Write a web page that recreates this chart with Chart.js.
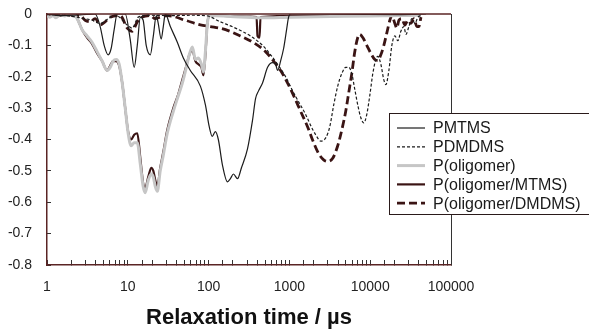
<!DOCTYPE html>
<html>
<head>
<meta charset="utf-8">
<script src="https://cdn.jsdelivr.net/npm/chart.js@4.4.0/dist/chart.umd.min.js"></script>
<style>
  body { margin: 0; background: #fff; }
  #relax { display: block; }
</style>
</head>
<body>
<canvas id="relax" width="589" height="330"></canvas>
<script>
// relaxation time (µs) and signal for each curve
const pmtmsTime = [1, 1.45, 2.57, 3.94, 4.55, 5.1, 5.71, 6.22, 6.78, 7.39, 9.29, 10.7, 12.0, 13.1, 14.3, 15.5, 16.9, 19.0, 20.7, 22.5, 23.8, 25.9, 27.5, 29.1, 33.6, 41.0, 48.7, 59.4, 79.1, 91.3, 102, 111, 121, 132, 148, 171, 186, 203, 228, 255, 303, 349, 381, 415, 465, 537, 619, 675, 714, 778, 848, 923, 977, 1035, 3245, 24000, 48960];
const pmtmsValue = [0, -0.005, -0.003, 0, -0.04, -0.1, -0.13, -0.11, -0.05, 0, 0, -0.08, -0.17, -0.1, -0.01, -0.02, -0.1, -0.13, -0.07, -0.005, -0.03, -0.08, -0.04, 0, -0.04, -0.09, -0.14, -0.18, -0.23, -0.29, -0.36, -0.39, -0.375, -0.4, -0.48, -0.535, -0.525, -0.51, -0.525, -0.49, -0.43, -0.34, -0.27, -0.245, -0.22, -0.17, -0.155, -0.16, -0.18, -0.15, -0.11, -0.05, -0.01, 0, 0, -0.002, 0];

const pdmdmsTime = [1, 1.45, 2.96, 3.61, 4.55, 5.71, 6.98, 9.84, 11.3, 13.5, 19.0, 33.6, 59.4, 91.3, 140, 215, 330, 465, 585, 735, 897, 1096, 1300, 1588, 1832, 2115, 2439, 2813, 3155, 3535, 3963, 4447, 4980, 5430, 5916, 6444, 7015, 7642, 8337, 9078, 9880, 10770, 11730, 12420, 13540, 14750, 15630, 17030, 18540, 20190, 21980, 23970, 26120, 27660, 30130, 32810, 35730, 39000, 42460];
const pdmdmsValue = [-0.002, -0.003, -0.015, -0.02, -0.03, -0.015, -0.003, -0.035, -0.045, -0.01, -0.004, -0.005, -0.004, -0.005, -0.025, -0.045, -0.07, -0.1, -0.13, -0.165, -0.2, -0.245, -0.28, -0.32, -0.355, -0.385, -0.405, -0.395, -0.36, -0.29, -0.23, -0.19, -0.17, -0.17, -0.19, -0.24, -0.29, -0.33, -0.347, -0.32, -0.26, -0.19, -0.145, -0.135, -0.16, -0.21, -0.225, -0.18, -0.1, -0.07, -0.085, -0.055, -0.04, -0.065, -0.04, -0.015, -0.03, -0.01, -0.005];

const oligoTime = [1, 1.09, 1.19, 1.29, 1.45, 1.67, 1.93, 2.23, 2.42, 2.72, 3.13, 3.61, 4.17, 4.81, 5.55, 6.05, 6.59, 7.18, 7.82, 8.53, 9.29, 10.1, 11.0, 12.0, 13.1, 14.3, 15.5, 16.4, 17.9, 19.5, 20.7, 21.9, 23.2, 25.2, 27.5, 30.8, 36.6, 42.2, 47.3, 53.0, 57.7, 63.0, 68.6, 74.8, 81.5, 86.2, 91.3, 96.6, 102, 186, 439, 1035, 3245, 10170, 23970, 42460];
const oligoValue = [-0.005, -0.01, -0.005, -0.012, -0.002, -0.006, 0, -0.005, -0.02, -0.05, -0.07, -0.09, -0.12, -0.15, -0.18, -0.17, -0.15, -0.145, -0.16, -0.22, -0.3, -0.38, -0.42, -0.41, -0.41, -0.48, -0.55, -0.57, -0.53, -0.51, -0.52, -0.55, -0.565, -0.5, -0.45, -0.38, -0.31, -0.26, -0.22, -0.17, -0.13, -0.105, -0.145, -0.14, -0.16, -0.185, -0.12, -0.03, -0.005, -0.008, -0.012, -0.01, -0.008, -0.006, -0.005, -0.003];

const oligoMtmsTime = [1, 1.45, 2.23, 2.42, 2.72, 3.13, 3.61, 4.17, 4.81, 5.55, 6.05, 6.59, 7.18, 7.82, 8.53, 9.29, 10.1, 11.0, 12.0, 13.1, 14.3, 15.5, 16.4, 17.9, 19.5, 20.7, 21.9, 23.2, 25.2, 27.5, 30.8, 36.6, 42.2, 47.3, 53.0, 57.7, 63.0, 68.6, 74.8, 81.5, 86.2, 91.3, 96.6, 102, 330, 392, 403, 427, 439, 1377, 5744, 42460];
const oligoMtmsValue = [-0.003, -0.004, -0.004, -0.02, -0.05, -0.075, -0.095, -0.125, -0.15, -0.18, -0.165, -0.15, -0.15, -0.165, -0.22, -0.3, -0.375, -0.4, -0.385, -0.38, -0.46, -0.54, -0.555, -0.52, -0.49, -0.5, -0.53, -0.55, -0.49, -0.44, -0.37, -0.3, -0.255, -0.21, -0.165, -0.13, -0.115, -0.15, -0.16, -0.17, -0.195, -0.13, -0.03, -0.005, -0.008, -0.01, -0.07, -0.075, -0.01, -0.006, -0.005, -0.003];

const oligoDmdmsTime = [1, 1.45, 2.57, 2.96, 3.42, 3.94, 4.55, 5.24, 6.05, 8.05, 9.84, 11.3, 13.1, 15.1, 19.0, 21.9, 25.2, 30.8, 51.5, 79.1, 105, 162, 248, 381, 507, 637, 778, 950, 1128, 1377, 1683, 1995, 2302, 2655, 2979, 3435, 3963, 4447, 4980, 5430, 5916, 6444, 7015, 7430, 8094, 9078, 10170, 11400, 12420, 13540, 14750, 16070, 17510, 18540, 20190, 21380, 22640, 24660, 26850, 29270, 31890, 34740, 37850, 40100, 42460];
const oligoDmdmsValue = [-0.002, -0.004, -0.005, -0.02, -0.025, -0.015, -0.035, -0.025, -0.01, -0.005, -0.045, -0.055, -0.025, -0.01, -0.005, -0.015, -0.01, -0.005, -0.02, -0.035, -0.04, -0.05, -0.07, -0.095, -0.12, -0.15, -0.18, -0.22, -0.26, -0.31, -0.36, -0.41, -0.445, -0.465, -0.47, -0.46, -0.42, -0.37, -0.31, -0.25, -0.19, -0.12, -0.075, -0.065, -0.075, -0.1, -0.125, -0.145, -0.148, -0.13, -0.1, -0.06, -0.02, -0.005, -0.03, -0.045, -0.02, -0.015, -0.035, -0.02, -0.03, -0.015, -0.04, -0.04, -0.01];

const yTicks = [0, -0.1, -0.2, -0.3, -0.4, -0.5, -0.6, -0.7, -0.8];

function toPoints(times, values) {
  return times.map((t, i) => ({ x: t, y: values[i] }));
}

const FONT = "'Liberation Sans', Arial, sans-serif";
const AXIS = "#5a2424";

// top and right edges of the plot box
const frame = {
  id: "frame",
  afterDatasetsDraw(chart) {
    const { ctx, chartArea: a } = chart;
    ctx.save();
    ctx.lineWidth = 1.5;
    ctx.strokeStyle = AXIS;
    ctx.beginPath();
    ctx.moveTo(a.left, a.top);
    ctx.lineTo(a.right, a.top);
    ctx.stroke();
    ctx.strokeStyle = "#333";
    ctx.lineWidth = 1;
    ctx.beginPath();
    ctx.moveTo(a.right + 0.5, a.top);
    ctx.lineTo(a.right + 0.5, a.bottom);
    ctx.stroke();
    ctx.restore();
  }
};

// boxed legend with line samples, partly cut off by the right edge
const boxLegend = {
  id: "boxLegend",
  afterDraw(chart) {
    const ctx = chart.ctx;
    const left = 389.5, top = 113.5, bottom = 214.5;
    ctx.save();
    ctx.fillStyle = "#fff";
    ctx.fillRect(left, top, 220, bottom - top);
    ctx.strokeStyle = "#2a1a1a";
    ctx.lineWidth = 1;
    ctx.strokeRect(left, top, 220, bottom - top);
    ctx.font = "16px " + FONT;
    ctx.textBaseline = "middle";
    ctx.fillStyle = "#1a1a1a";
    chart.data.datasets.forEach((ds, i) => {
      const y = 128 + i * 18.8;
      ctx.strokeStyle = ds.borderColor;
      ctx.lineWidth = ds.borderWidth;
      ctx.setLineDash(ds.borderDash || []);
      ctx.beginPath();
      ctx.moveTo(397, y);
      ctx.lineTo(425, y);
      ctx.stroke();
      ctx.setLineDash([]);
      ctx.fillText(ds.label, 433, y + 1);
    });
    ctx.restore();
  }
};

new Chart(document.getElementById("relax"), {
  type: "line",
  data: {
    datasets: [
      {
        label: "PMTMS",
        data: toPoints(pmtmsTime, pmtmsValue),
        borderColor: "#1c1c1c",
        borderWidth: 1.2,
      },
      {
        label: "PDMDMS",
        data: toPoints(pdmdmsTime, pdmdmsValue),
        borderColor: "#1c1c1c",
        borderWidth: 1.2,
        borderDash: [3, 2],
      },
      {
        label: "P(oligomer)",
        data: toPoints(oligoTime, oligoValue),
        borderColor: "#c6c6c6",
        borderWidth: 3,
      },
      {
        label: "P(oligomer/MTMS)",
        data: toPoints(oligoMtmsTime, oligoMtmsValue),
        borderColor: "#3a1414",
        borderWidth: 2.2,
      },
      {
        label: "P(oligomer/DMDMS)",
        data: toPoints(oligoDmdmsTime, oligoDmdmsValue),
        borderColor: "#3a1414",
        borderWidth: 2.8,
        borderDash: [8, 4],
      },
    ],
  },
  options: {
    responsive: false,
    animation: false,
    layout: { padding: { left: 8, right: 138, top: 14, bottom: 0 } },
    elements: {
      point: { radius: 0 },
      line: { cubicInterpolationMode: "monotone" },
    },
    plugins: {
      legend: { display: false },
      tooltip: { enabled: false },
    },
    scales: {
      x: {
        type: "logarithmic",
        min: 1,
        max: 100000,
        border: { color: AXIS, width: 1.5 },
        grid: { drawOnChartArea: false, tickLength: -5, color: "#333" },
        afterFit: function (scale) {
          scale.height = 65;
          scale.paddingLeft = 0;
          scale.paddingRight = 0;
        },
        ticks: {
          autoSkip: false,
          maxRotation: 0,
          padding: 19,
          color: "#222",
          font: { family: FONT, size: 14 },
          callback: function (value) {
            const e = Math.log10(value);
            return Math.abs(e - Math.round(e)) < 1e-9 ? String(value) : "";
          },
        },
        title: {
          display: true,
          text: "Relaxation time / µs",
          color: "#111",
          font: { family: FONT, size: 22, weight: "bold", lineHeight: 1 },
          padding: { top: 10, bottom: 1 },
        },
      },
      y: {
        min: -0.8,
        max: 0,
        border: { color: AXIS, width: 1.5 },
        grid: { drawOnChartArea: false, tickLength: -4, color: "#333" },
        afterBuildTicks: function (axis) {
          axis.ticks = yTicks.map((v) => ({ value: v }));
        },
        afterFit: function (scale) {
          scale.width = 39;
          scale.paddingTop = 0;
          scale.paddingBottom = 0;
        },
        ticks: {
          padding: 19,
          color: "#222",
          font: { family: FONT, size: 14 },
          callback: function (value) {
            return String(Number(value.toFixed(1)));
          },
        },
      },
    },
  },
  plugins: [frame, boxLegend],
});
</script>
</body>
</html>
